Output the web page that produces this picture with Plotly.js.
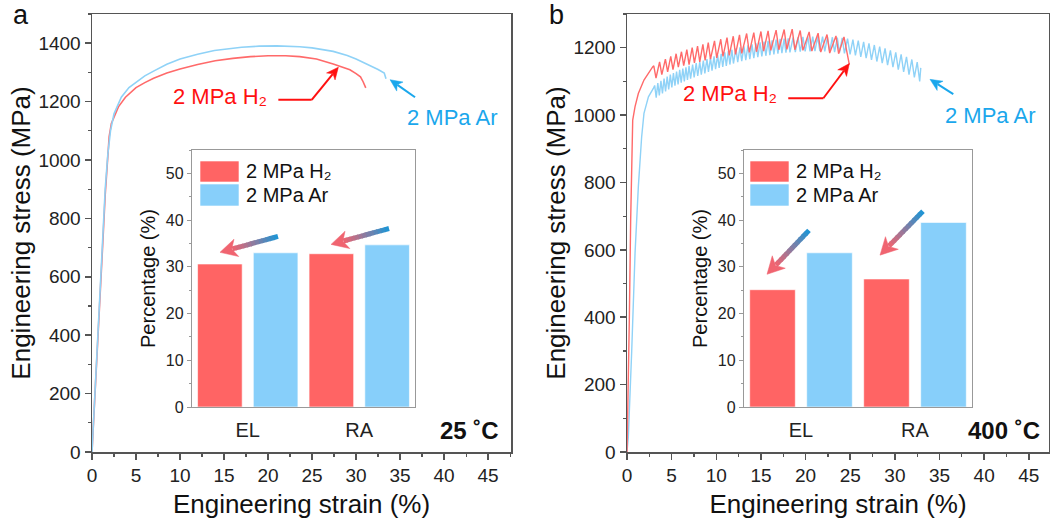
<!DOCTYPE html>
<html>
<head>
<meta charset="utf-8">
<script src="https://cdn.plot.ly/plotly-3.0.1.min.js"></script>
<style>html,body{margin:0;padding:0;background:#fff;}#chart{width:1050px;height:528px;}</style>
</head>
<body>
<div id="chart"></div>
<script>
// ---------------- DATA ----------------
// Panel a (25 °C): smooth stress-strain curves
const strainA_H2 = [0, 0.4, 0.8, 1.2, 1.5, 1.75, 1.95, 2.2, 2.65, 3.0, 3.8, 5.0, 6.0, 7.0, 8.5, 10, 12, 14, 16, 18, 20, 22, 23.6, 25.5, 27.4, 28.5, 29.3, 30.0, 30.5, 30.8, 31.1];
const stressA_H2 = [0, 220, 470, 700, 880, 1010, 1080, 1125, 1158, 1182, 1215, 1248, 1265, 1280, 1298, 1312, 1327, 1340, 1348, 1354, 1357, 1357, 1354, 1346, 1329, 1318, 1309, 1296, 1285, 1268, 1247];
const strainA_Ar = [0, 0.4, 0.8, 1.2, 1.5, 1.8, 2.1, 2.5, 3.33, 4.2, 5.2, 6.0, 7.1, 8.5, 10, 10.9, 12, 13.9, 15, 17, 19, 21, 23.6, 25, 27.4, 29, 30, 31.2, 32.5, 33.2, 33.3, 33.4];
const stressA_Ar = [0, 230, 480, 720, 900, 1020, 1100, 1158, 1215, 1248, 1270, 1288, 1306, 1328, 1346, 1354, 1362, 1375, 1379, 1386, 1390, 1391, 1388, 1384, 1372, 1358, 1346, 1330, 1310, 1298, 1290, 1278];

// Panel b (400 °C): serrated stress-strain curves
const strainB_H2 = [0, 0.15, 0.26, 0.41, 0.52, 0.64, 0.9, 1.27, 1.9, 2.58, 2.87,
  3.0, 3.25, 3.65, 3.9, 4.3, 4.55, 4.9, 5.15, 5.5, 5.75, 6.1, 6.35, 6.7, 6.95, 7.3, 7.55, 7.9, 8.15, 8.5, 8.75,
  9.1, 9.35, 9.8, 10.05, 10.5, 10.75, 11.2, 11.45, 11.9, 12.15, 12.6, 12.85, 13.4, 13.7, 14.2, 14.5, 15.0, 15.3,
  15.8, 16.1, 16.7, 17.0, 17.6, 17.9, 18.5, 18.8, 19.4, 19.7, 20.4, 20.7, 21.4, 21.7, 22.4, 22.7, 23.4, 23.7, 24.3, 24.9];
const stressB_H2 = [0, 194, 392, 688, 887, 985, 1025, 1064, 1104, 1134, 1143,
  1146, 1110, 1158, 1120, 1166, 1128, 1174, 1135, 1182, 1142, 1188, 1147, 1194, 1150, 1200, 1155, 1205, 1158, 1210, 1162,
  1215, 1166, 1220, 1170, 1225, 1174, 1230, 1177, 1234, 1180, 1238, 1183, 1242, 1186, 1245, 1188, 1248, 1190,
  1250, 1192, 1252, 1194, 1254, 1195, 1255, 1194, 1251, 1192, 1247, 1190, 1243, 1187, 1239, 1184, 1235, 1182, 1232, 1150];
const strainB_Ar = [0, 0.15, 0.52, 0.9, 1.27, 1.64, 1.9, 2.4, 2.95,
  3.1, 3.27, 3.45, 3.62, 3.8, 3.97, 4.15, 4.32, 4.5, 4.67, 4.85, 5.02, 5.2, 5.37, 5.55, 5.72, 5.9, 6.07, 6.25, 6.42,
  6.6, 6.77, 6.95, 7.12, 7.35, 7.52, 7.75, 7.92, 8.15, 8.32, 8.55, 8.72, 8.95, 9.12, 9.35, 9.52, 9.75, 9.92,
  10.15, 10.32, 10.55, 10.72, 10.95, 11.12, 11.35, 11.52, 11.75, 11.92, 12.2, 12.4, 12.65, 12.85, 13.1, 13.3,
  13.55, 13.75, 14.0, 14.2, 14.45, 14.65, 14.9, 15.1, 15.35, 15.55, 15.8, 16.0, 16.25, 16.45, 16.7, 16.9,
  17.15, 17.35, 17.6, 17.8, 18.05, 18.25, 18.6, 18.85, 19.15, 19.4, 19.7, 19.95, 20.25, 20.5, 20.8, 21.05,
  21.35, 21.6, 21.9, 22.15, 22.45, 22.7, 23.0, 23.25, 23.55, 23.8, 24.1, 24.35, 24.7, 24.98, 25.3, 25.58,
  25.9, 26.18, 26.5, 26.78, 27.1, 27.38, 27.7, 27.98, 28.3, 28.58, 28.9, 29.18, 29.5, 29.78, 30.1, 30.38,
  30.7, 30.98, 31.3, 31.58, 31.9, 32.18, 32.5, 32.78, 32.9];
const stressB_Ar = [0, 45, 294, 590, 787, 935, 1005, 1054, 1079,
  1088, 1052, 1095, 1058, 1102, 1064, 1108, 1070, 1114, 1076, 1120, 1082, 1125, 1087, 1129, 1091, 1134, 1096, 1138, 1100,
  1142, 1104, 1146, 1108, 1150, 1112, 1154, 1116, 1158, 1120, 1162, 1124, 1166, 1128, 1170, 1132, 1174, 1136,
  1178, 1140, 1182, 1143, 1186, 1146, 1190, 1150, 1194, 1153, 1198, 1157, 1201, 1160, 1204, 1163,
  1207, 1166, 1210, 1169, 1213, 1172, 1216, 1174, 1218, 1176, 1220, 1178, 1222, 1180, 1224, 1182,
  1226, 1184, 1227, 1185, 1228, 1186, 1230, 1187, 1231, 1188, 1232, 1189, 1233, 1189, 1233, 1190,
  1233, 1190, 1233, 1189, 1232, 1188, 1231, 1187, 1230, 1185, 1229, 1183, 1227, 1180, 1224, 1177,
  1221, 1173, 1217, 1169, 1213, 1164, 1208, 1159, 1203, 1154, 1198, 1148, 1192, 1142, 1186, 1135,
  1180, 1128, 1173, 1120, 1165, 1112, 1157, 1100, 1140];

// Insets: EL and RA percentages
const barCategories = ['EL', 'RA'];
const barA_H2 = [30.6, 32.8];
const barA_Ar = [33.0, 34.7];
const barB_H2 = [25.1, 27.4];
const barB_Ar = [33.0, 39.5];

const seriesNames = ['2 MPa H\u2082', '2 MPa Ar'];
const panelLetters = ['a', 'b'];
const temperatures = ['25 \u02DAC', '400 \u02DAC'];

// ---------------- STYLE ----------------
const FONT = 'Arial, "Liberation Sans", Helvetica, sans-serif';
const RED_LINE = '#ff6a6a', BLUE_LINE = '#8fd2f7';
const RED_TXT = '#ff1010', BLUE_TXT = '#1aa7ec';
const RED_BAR = '#ff6464', BLUE_BAR = '#87cffa';
const AX = '#555';
const W = 1050, H = 528;
const px = v => v / W, py = v => 1 - v / H;

const barLine = {color: 'rgba(255,255,255,0.6)', width: 1};
const traces = [
  {x: strainA_H2, y: stressA_H2, xaxis: 'x', yaxis: 'y', type: 'scatter', mode: 'lines', line: {color: RED_LINE, width: 1.6}},
  {x: strainA_Ar, y: stressA_Ar, xaxis: 'x', yaxis: 'y', type: 'scatter', mode: 'lines', line: {color: BLUE_LINE, width: 1.6}},
  {x: strainB_Ar, y: stressB_Ar, xaxis: 'x2', yaxis: 'y2', type: 'scatter', mode: 'lines', line: {color: BLUE_LINE, width: 1.4}},
  {x: strainB_H2, y: stressB_H2, xaxis: 'x2', yaxis: 'y2', type: 'scatter', mode: 'lines', line: {color: RED_LINE, width: 1.4}},
  {x: barCategories, y: barA_H2, xaxis: 'x3', yaxis: 'y3', type: 'bar', marker: {color: RED_BAR, line: barLine}},
  {x: barCategories, y: barA_Ar, xaxis: 'x3', yaxis: 'y3', type: 'bar', marker: {color: BLUE_BAR, line: barLine}},
  {x: barCategories, y: barB_H2, xaxis: 'x4', yaxis: 'y4', type: 'bar', marker: {color: RED_BAR, line: barLine}},
  {x: barCategories, y: barB_Ar, xaxis: 'x4', yaxis: 'y4', type: 'bar', marker: {color: BLUE_BAR, line: barLine}}
];

function mainX(domain, range, anchor) {
  return {domain, range, anchor, dtick: 5, tick0: 0, ticks: 'outside', ticklen: 6, tickwidth: 1.5, tickcolor: AX,
    showline: true, linecolor: AX, linewidth: 1.5, mirror: true, showgrid: false, zeroline: false,
    tickfont: {size: 19, color: '#222'}, minor: {dtick: 2.5, ticks: 'outside', ticklen: 3, tickcolor: AX, tickwidth: 1.2},
    title: {text: 'Engineering strain (%)', font: {size: 26, color: '#111'}, standoff: 9}};
}
function mainY(domain, range, anchor) {
  return {domain, range, anchor, dtick: 200, tick0: 0, ticks: 'outside', ticklen: 6, tickwidth: 1.5, tickcolor: AX,
    showline: true, linecolor: AX, linewidth: 1.5, mirror: true, showgrid: false, zeroline: false,
    tickfont: {size: 19, color: '#222'}, minor: {dtick: 100, ticks: 'outside', ticklen: 3, tickcolor: AX, tickwidth: 1.2},
    title: {text: 'Engineering stress (MPa)', font: {size: 26, color: '#111'}, standoff: 0}};
}
function insetX(domain, anchor) {
  return {domain, anchor, type: 'category', range: [-0.5, 1.5], showline: true, linecolor: '#999', linewidth: 1.2, mirror: true,
    ticks: '', showgrid: false, zeroline: false, tickfont: {size: 20, color: '#222'}, ticklabelstandoff: 5};
}
function insetY(domain, anchor) {
  return {domain, anchor, range: [0, 55], dtick: 10, tick0: 0, ticks: 'outside', ticklen: 4, tickcolor: '#999',
    showline: true, linecolor: '#999', linewidth: 1.2, mirror: true, showgrid: false, zeroline: false,
    tickfont: {size: 16, color: '#222'}, minor: {dtick: 5, ticks: 'outside', ticklen: 2, tickcolor: '#999'},
    title: {text: 'Percentage (%)', font: {size: 20, color: '#111'}, standoff: 4}};
}

const layout = {
  width: W, height: H, margin: {l: 0, r: 0, t: 0, b: 0},
  paper_bgcolor: '#fff', plot_bgcolor: 'rgba(0,0,0,0)',
  font: {family: FONT, color: '#111'},
  showlegend: false, hovermode: false,
  barmode: 'group', bargap: 0, bargroupgap: 0.2,
  xaxis: mainX([px(92), px(511)], [0, 47.6], 'y'),
  yaxis: mainY([py(452), py(14)], [0, 1500], 'x'),
  xaxis2: mainX([px(627), px(1049)], [0, 47.26], 'y2'),
  yaxis2: mainY([py(452), py(14)], [0, 1300], 'x2'),
  xaxis3: insetX([px(192), px(415)], 'y3'),
  yaxis3: insetY([py(407), py(150)], 'x3'),
  xaxis4: insetX([px(744), px(972)], 'y4'),
  yaxis4: insetY([py(407), py(150)], 'x4'),
  shapes: [], annotations: []
};

// data -> pixel helpers (for arrowhead polygons)
const axName = r => (r.startsWith('x') ? 'xaxis' : 'yaxis') + r.slice(1);
function toPix(xr, yr, x, y) {
  const ax = layout[axName(xr)], ay = layout[axName(yr)];
  const fx = ax.domain[0] + (x - ax.range[0]) / (ax.range[1] - ax.range[0]) * (ax.domain[1] - ax.domain[0]);
  const fy = ay.domain[0] + (y - ay.range[0]) / (ay.range[1] - ay.range[0]) * (ay.domain[1] - ay.domain[0]);
  return [fx * W, (1 - fy) * H];
}
function fromPix(xr, yr, X, Y) {
  const ax = layout[axName(xr)], ay = layout[axName(yr)];
  const fx = X / W, fy = 1 - Y / H;
  return [ax.range[0] + (fx - ax.domain[0]) / (ax.domain[1] - ax.domain[0]) * (ax.range[1] - ax.range[0]),
          ay.range[0] + (fy - ay.domain[0]) / (ay.domain[1] - ay.domain[0]) * (ay.range[1] - ay.range[0])];
}
// draws an arrowhead at tip; returns data point at the head base
function arrowHead(xr, yr, tail, tip, L, hw, color) {
  const [tx, ty] = toPix(xr, yr, tail[0], tail[1]);
  const [hx, hy] = toPix(xr, yr, tip[0], tip[1]);
  const len = Math.hypot(hx - tx, hy - ty), ux = (hx - tx) / len, uy = (hy - ty) / len, nx = -uy, ny = ux;
  const pts = [[hx, hy], [hx - L * ux + hw * nx, hy - L * uy + hw * ny], [hx - 0.72 * L * ux, hy - 0.72 * L * uy], [hx - L * ux - hw * nx, hy - L * uy - hw * ny]];
  const path = 'M' + pts.map(p => (p[0] / W).toFixed(5) + ',' + (1 - p[1] / H).toFixed(5)).join('L') + 'Z';
  layout.shapes.push({type: 'path', xref: 'paper', yref: 'paper', path, fillcolor: color, line: {color: color, width: 0.5}});
  return fromPix(xr, yr, hx - 0.75 * L * ux, hy - 0.75 * L * uy);
}

// inset legends (rectangles + labels)
[200, 750].forEach(lx => {
  layout.shapes.push({type: 'rect', xref: 'paper', yref: 'paper', x0: px(lx), x1: px(lx + 39), y0: py(182), y1: py(161), fillcolor: RED_BAR, line: barLine});
  layout.shapes.push({type: 'rect', xref: 'paper', yref: 'paper', x0: px(lx), x1: px(lx + 39), y0: py(206), y1: py(184), fillcolor: BLUE_BAR, line: barLine});
  layout.annotations.push({xref: 'paper', yref: 'paper', x: px(lx + 44), y: py(171), xanchor: 'left', yanchor: 'middle', text: seriesNames[0], showarrow: false, font: {size: 20, color: '#111'}});
  layout.annotations.push({xref: 'paper', yref: 'paper', x: px(lx + 44), y: py(195), xanchor: 'left', yanchor: 'middle', text: seriesNames[1], showarrow: false, font: {size: 20, color: '#111'}});
});

// gradient arrows in insets (blue tail -> red head)
const insetArrows = [
  {xr: 'x3', yr: 'y3', tail: [0.271, 36.5], tip: [-0.249, 33.1]},
  {xr: 'x3', yr: 'y3', tail: [1.267, 38.2], tip: [0.747, 34.8]},
  {xr: 'x4', yr: 'y4', tail: [0.070, 37.8], tip: [-0.298, 28.4]},
  {xr: 'x4', yr: 'y4', tail: [1.070, 41.9], tip: [0.693, 32.5]}
];
const cA = [25, 150, 215], cB = [240, 100, 112];
insetArrows.forEach(a => {
  const base = arrowHead(a.xr, a.yr, a.tail, a.tip, 17, 9, 'rgb(240,100,112)');
  const N = 12;
  for (let i = 0; i < N; i++) {
    const t0 = i / N, t1 = Math.min(1, (i + 1) / N + 0.02), f = (i + 0.5) / N;
    const c = cA.map((v, k) => Math.round(v + (cB[k] - v) * f));
    layout.shapes.push({type: 'line', xref: a.xr, yref: a.yr,
      x0: a.tail[0] + (base[0] - a.tail[0]) * t0, y0: a.tail[1] + (base[1] - a.tail[1]) * t0,
      x1: a.tail[0] + (base[0] - a.tail[0]) * t1, y1: a.tail[1] + (base[1] - a.tail[1]) * t1,
      line: {color: `rgb(${c.join(',')})`, width: 5}});
  }
});

// callouts on main panels
function callouts(xr, yr, txtH2, lineStart, corner, tipH2, txtAr, tailAr, tipAr, fs) {
  layout.annotations.push({xref: xr, yref: yr, x: txtH2[0], y: txtH2[1], text: seriesNames[0], showarrow: false, xanchor: 'center', yanchor: 'middle', font: {size: fs, color: RED_TXT}});
  layout.annotations.push({xref: xr, yref: yr, x: txtAr[0], y: txtAr[1], text: seriesNames[1], showarrow: false, xanchor: 'center', yanchor: 'middle', font: {size: fs, color: BLUE_TXT}});
  layout.shapes.push({type: 'line', xref: xr, yref: yr, x0: lineStart[0], y0: lineStart[1], x1: corner[0], y1: corner[1], line: {color: RED_TXT, width: 2}});
  const b1 = arrowHead(xr, yr, corner, tipH2, 12, 5.5, RED_TXT);
  layout.shapes.push({type: 'line', xref: xr, yref: yr, x0: corner[0], y0: corner[1], x1: b1[0], y1: b1[1], line: {color: RED_TXT, width: 2}});
  const b2 = arrowHead(xr, yr, tailAr, tipAr, 12, 5.5, BLUE_TXT);
  layout.shapes.push({type: 'line', xref: xr, yref: yr, x0: tailAr[0], y0: tailAr[1], x1: b2[0], y1: b2[1], line: {color: BLUE_TXT, width: 2}});
}
callouts('x', 'y', [14.55, 1218], [21.17, 1206], [24.96, 1206], [27.99, 1318], [40.85, 1144], [36.7, 1215], [33.86, 1275], 22);
callouts('x2', 'y2', [11.5, 1064], [18.06, 1050], [21.99, 1050], [24.9, 1153], [40.65, 998], [36.54, 1062], [33.93, 1106], 22);

// panel letters and temperatures
const lbl = (x, y, text, size) => layout.annotations.push({xref: 'paper', yref: 'paper', x: px(x), y: py(y), xanchor: 'center', yanchor: 'middle', text, showarrow: false, font: {size, color: '#111'}});
lbl(21, 15, panelLetters[0], 27);
lbl(556, 15, panelLetters[1], 27);
lbl(469, 430, '<b>' + temperatures[0] + '</b>', 24);
lbl(1004, 430, '<b>' + temperatures[1] + '</b>', 24);

Plotly.newPlot('chart', traces, layout, {staticPlot: true, displayModeBar: false});
</script>
</body>
</html>
